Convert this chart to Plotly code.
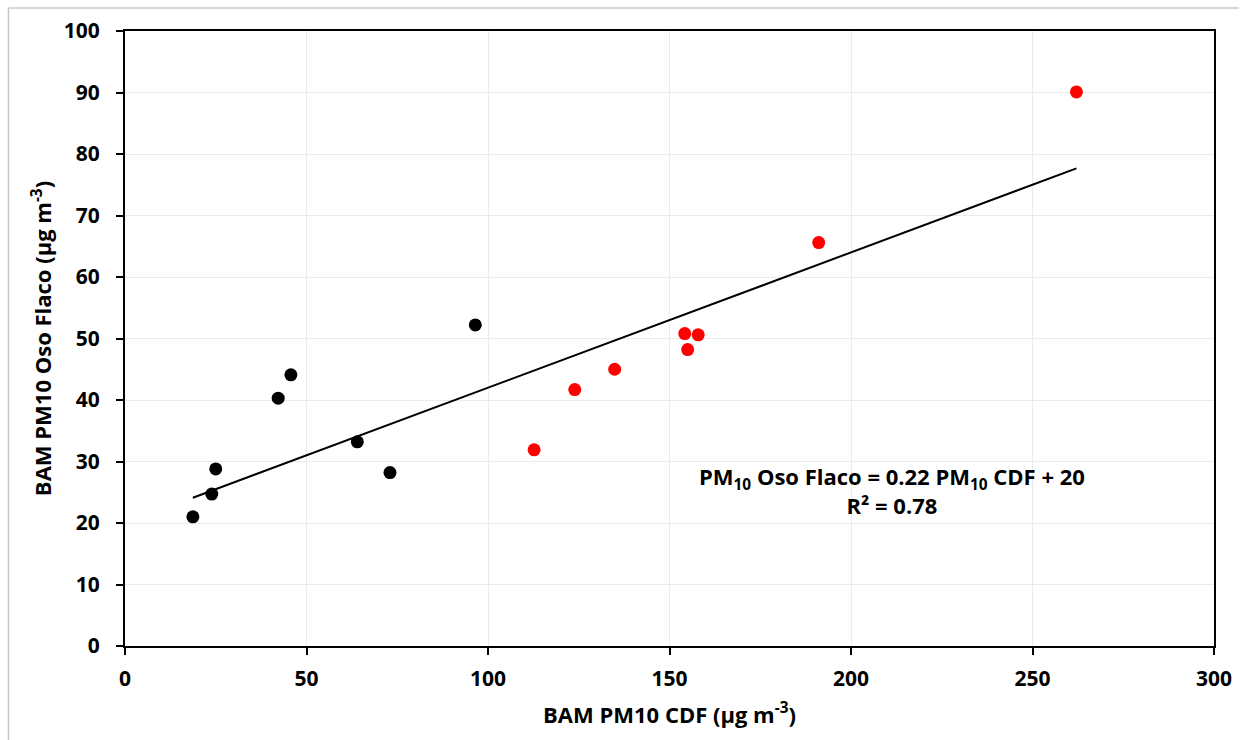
import numpy as np
import plotly.graph_objects as go

# BAM PM10 at CDF (x) vs BAM PM10 at Oso Flaco (y), µg m-3
cdf_black = [18.7, 23.9, 25.0, 42.2, 45.7, 64.0, 73.0, 96.5]
oso_black = [21.0, 24.7, 28.8, 40.3, 44.1, 33.2, 28.2, 52.2]
cdf_red = [112.7, 123.9, 134.9, 154.2, 155.0, 157.9, 191.1, 262.1]
oso_red = [31.9, 41.7, 45.0, 50.8, 48.2, 50.6, 65.6, 90.1]

# Linear regression line as stated in the equation label
slope = 0.22
intercept = 20
r_squared = 0.78

x_ticks = [0, 50, 100, 150, 200, 250, 300]
y_ticks = [0, 10, 20, 30, 40, 50, 60, 70, 80, 90, 100]

FONT = "Open Sans"

all_x = cdf_black + cdf_red
fit_x = np.array([min(all_x), max(all_x)])
fit_y = slope * fit_x + intercept

fig = go.Figure()
fig.add_trace(go.Scatter(x=fit_x, y=fit_y, mode="lines",
                         line=dict(color="black", width=2), showlegend=False))
fig.add_trace(go.Scatter(x=cdf_black, y=oso_black, mode="markers",
                         marker=dict(color="black", size=13), showlegend=False))
fig.add_trace(go.Scatter(x=cdf_red, y=oso_red, mode="markers",
                         marker=dict(color="#FF0000", size=13), showlegend=False))

W, H = 1244, 740
ml, mr, mt, mb = 125, 25, 31, 94
pw, ph = W - ml - mr, H - mt - mb


def px_x(px):
    return (px - ml) / pw


def px_y(py):
    return (H - mb - py) / ph


def bold(s):
    return f"<b>{s}</b>"


axis_common = dict(
    showline=True, linecolor="black", linewidth=2, mirror=True,
    ticks="outside", ticklen=7, tickwidth=2, tickcolor="black",
    showgrid=True, gridcolor="#ebebeb", gridwidth=1,
    zeroline=False,
    tickfont=dict(family=FONT, size=21, color="black"),
)

title_font = dict(family=FONT, size=22, color="black")

fig.update_layout(
    width=W, height=H,
    margin=dict(l=ml, r=mr, t=mt, b=mb),
    paper_bgcolor="white", plot_bgcolor="white",
    font=dict(family=FONT, color="black"),
    xaxis=dict(range=[0, 300], tickvals=x_ticks,
               ticktext=[bold(v) for v in x_ticks],
               ticklabelstandoff=6,
               title=dict(text=bold("BAM PM10 CDF (µg m<sup>-3</sup>)"),
                          font=title_font, standoff=16),
               **axis_common),
    yaxis=dict(range=[0, 100], tickvals=y_ticks,
               ticktext=[bold(v) for v in y_ticks],
               ticklabelstandoff=12,
               title=dict(text=bold("BAM PM10 Oso Flaco (µg m<sup>-3</sup>)"),
                          font=title_font, standoff=6),
               **axis_common),
    annotations=[dict(
        x=px_x(896), y=px_y(490), xref="paper", yref="paper",
        xanchor="center", yanchor="middle",
        text=bold(f"PM<sub>10</sub> Oso Flaco = {slope:.2f} PM<sub>10</sub> CDF + {intercept}"
                  f"<br>R² = {r_squared:.2f}"),
        showarrow=False, align="center",
        font=dict(family=FONT, size=22, color="black"),
    )],
    shapes=[
        dict(type="line", xref="paper", yref="paper",
             x0=px_x(8), x1=px_x(1244), y0=px_y(8), y1=px_y(8),
             line=dict(color="#c8c8c8", width=1.5)),
        dict(type="line", xref="paper", yref="paper",
             x0=px_x(8), x1=px_x(8), y0=px_y(8), y1=px_y(740),
             line=dict(color="#c8c8c8", width=1.5)),
    ],
)

fig.write_html("out.html")
